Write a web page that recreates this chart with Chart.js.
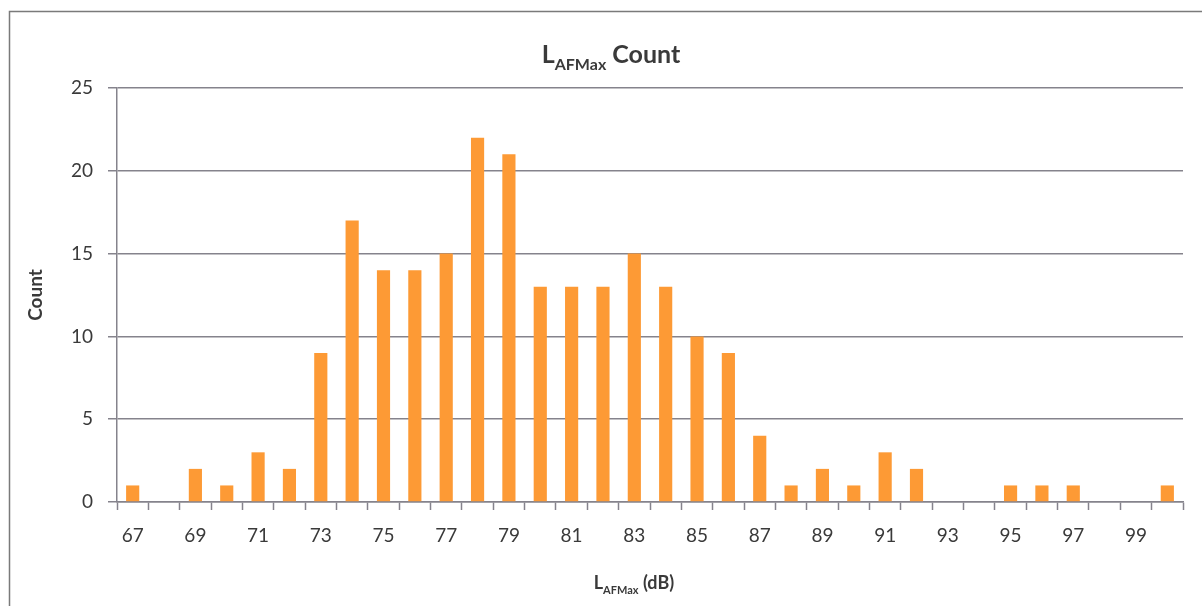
<!DOCTYPE html>
<html lang="en">
<head>
    <meta charset="UTF-8">
    <title>LAFMax Count</title>
    <script src="https://cdn.jsdelivr.net/npm/chart.js"></script>
    <style>
        html, body { margin: 0; padding: 0; background: #fff; }
        #wrap { width: 1202px; height: 606px; position: relative; }
    </style>
</head>
<body>
    <div id="wrap"><canvas id="chart"></canvas></div>
    <script>
        // LAFMax levels (dB) and how many events fell at each level
        const levels = [67, 68, 69, 70, 71, 72, 73, 74, 75, 76, 77, 78, 79, 80, 81, 82, 83,
                        84, 85, 86, 87, 88, 89, 90, 91, 92, 93, 94, 95, 96, 97, 98, 99, 100];
        const counts = [1, 0, 2, 1, 3, 2, 9, 17, 14, 14, 15, 22, 21, 13, 13, 13, 15,
                        13, 10, 9, 4, 1, 2, 1, 3, 2, 0, 0, 1, 1, 1, 0, 0, 1];
        const yTicks = [0, 5, 10, 15, 20, 25];

        const FONT = 'Lato, "Open Sans", sans-serif';
        const TEXT = '#3a3a3a';
        const LINE = '#85838c';

        // draws L + subscript + rest, centred on cx
        function subText(ctx, cx, y, main, sub, rest, size) {
            const big = 'bold ' + size + 'px ' + FONT;
            const small = 'bold ' + Math.round(size * 0.62) + 'px ' + FONT;
            ctx.font = big; const w1 = ctx.measureText(main).width;
            const w3 = ctx.measureText(rest).width;
            ctx.font = small; const w2 = ctx.measureText(sub).width;
            let x = cx - (w1 + w2 + w3) / 2;
            ctx.textBaseline = 'alphabetic';
            ctx.textAlign = 'left';
            ctx.font = big; ctx.fillText(main, x, y); x += w1;
            ctx.font = small; ctx.fillText(sub, x, y + size * 0.28); x += w2;
            ctx.font = big; ctx.fillText(rest, x, y);
        }

        const decor = {
            id: 'decor',
            afterDraw(chart) {
                const ctx = chart.ctx;
                ctx.save();
                // outer frame
                ctx.strokeStyle = '#7a7a7a';
                ctx.lineWidth = 1.5;
                ctx.strokeRect(9.5, 11.5, 1220, 620);
                ctx.fillStyle = TEXT;
                subText(ctx, 611, 63, 'L', 'AFMax', ' Count', 25);
                subText(ctx, 634, 589, 'L', 'AFMax', ' (dB)', 18);
                // y axis title
                ctx.translate(36, 295);
                ctx.rotate(-Math.PI / 2);
                ctx.font = 'bold 19px ' + FONT;
                ctx.textAlign = 'center';
                ctx.textBaseline = 'middle';
                ctx.fillText('Count', 0, 0);
                ctx.restore();
            }
        };

        new Chart(document.getElementById('chart'), {
            type: 'bar',
            data: {
                labels: levels.map(String),
                datasets: [{
                    data: counts,
                    backgroundColor: '#FD9A35',
                    borderWidth: 0,
                    barPercentage: 0.42,
                    categoryPercentage: 1
                }]
            },
            options: {
                responsive: true,
                maintainAspectRatio: false,
                animation: false,
                layout: { padding: { top: 88, right: 19, left: 0, bottom: 0 } },
                plugins: { legend: { display: false }, tooltip: { enabled: false } },
                scales: {
                    x: {
                        afterFit(scale) { scale.height = 104; },
                        grid: {
                            offset: true,
                            drawOnChartArea: false,
                            color: LINE,
                            tickLength: 8,
                            tickWidth: 1.5
                        },
                        border: { color: LINE, width: 1.5 },
                        ticks: {
                            autoSkip: false,
                            maxRotation: 0,
                            padding: 14,
                            color: TEXT,
                            font: { family: FONT, size: 19 },
                            callback: (v, i) => (i % 2 === 0 ? levels[i] : '')
                        }
                    },
                    y: {
                        min: 0,
                        max: 25,
                        afterFit(scale) { scale.width = 117; },
                        afterBuildTicks(scale) { scale.ticks = yTicks.map(v => ({ value: v })); },
                        grid: { color: LINE, lineWidth: 1.5, tickLength: 9 },
                        border: { color: LINE, width: 1.5 },
                        ticks: {
                            padding: 15,
                            color: TEXT,
                            font: { family: FONT, size: 19 }
                        }
                    }
                }
            },
            plugins: [decor]
        });
    </script>
</body>
</html>
